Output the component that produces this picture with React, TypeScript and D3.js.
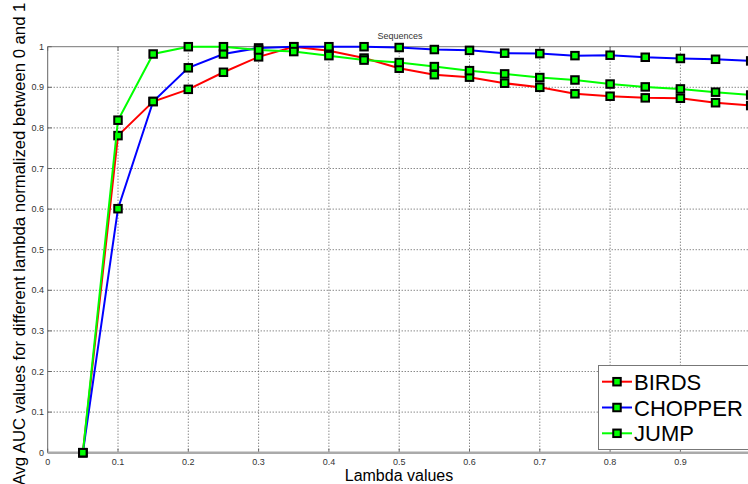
import React from "react";
import * as d3 from "d3";

const lambdas = [0.05, 0.1, 0.15, 0.2, 0.25, 0.3, 0.35, 0.4, 0.45, 0.5, 0.55, 0.6, 0.65, 0.7, 0.75, 0.8, 0.85, 0.9, 0.95, 1.0];
const birds = [0, 0.781, 0.865, 0.895, 0.937, 0.975, 1.0, 0.99, 0.972, 0.947, 0.931, 0.925, 0.91, 0.9, 0.884, 0.878, 0.874, 0.873, 0.862, 0.855];
const chopper = [0, 0.601, 0.865, 0.948, 0.982, 0.997, 1.0, 1.0, 1.0, 0.998, 0.993, 0.991, 0.984, 0.983, 0.978, 0.979, 0.974, 0.971, 0.969, 0.965];
const jump = [0, 0.819, 0.982, 1.0, 1.0, 0.992, 0.988, 0.978, 0.967, 0.961, 0.951, 0.941, 0.933, 0.924, 0.918, 0.908, 0.901, 0.896, 0.888, 0.881];
const seriesNames = ["BIRDS", "CHOPPER", "JUMP"];
const seriesColors = ["#ff0000", "#0000ff", "#00ff00"];
const xTicks = [0, 0.1, 0.2, 0.3, 0.4, 0.5, 0.6, 0.7, 0.8, 0.9];
const yTicks = [0, 0.1, 0.2, 0.3, 0.4, 0.5, 0.6, 0.7, 0.8, 0.9, 1];

export default function App() {
  const W = 748, H = 484;
  const x = d3.scaleLinear().domain([0, 1]).range([47.7, 750.7]);
  const y = d3.scaleLinear().domain([0, 1]).range([452.7, 46.7]);
  const allSeries = [birds, chopper, jump];
  const line = d3.line<number>().x((_, i) => x(lambdas[i])).y((d) => y(d));
  const font = "Arial, 'Liberation Sans', sans-serif";
  const ms = 7.5;
  return (
    <svg width={W} height={H} style={{ position: "absolute", left: 0, top: 0, background: "#fff" }} fontFamily={font}>
      <rect x={0} y={0} width={W} height={H} fill="#fff" />
      {xTicks.slice(1).map((t) => (
        <line key={"gx" + t} x1={x(t)} x2={x(t)} y1={y(1)} y2={y(0)} stroke="#555" strokeWidth={1} strokeDasharray="1,2" />
      ))}
      {yTicks.slice(1, -1).map((t) => (
        <line key={"gy" + t} x1={x(0)} x2={W} y1={y(t)} y2={y(t)} stroke="#555" strokeWidth={1} strokeDasharray="1,2" />
      ))}
      <line x1={x(0)} x2={W} y1={y(1)} y2={y(1)} stroke="#777" strokeWidth={1} />
      <line x1={x(0)} x2={x(0)} y1={y(1)} y2={y(0)} stroke="#666" strokeWidth={1} />
      {xTicks.map((t) => (
        <g key={"tx" + t}>
          <line x1={x(t)} x2={x(t)} y1={y(0)} y2={y(0) - 4} stroke="#666" />
          <line x1={x(t)} x2={x(t)} y1={y(1)} y2={y(1) + 4} stroke="#666" />
          <text x={x(t)} y={465} fontSize={9} textAnchor="middle" fill="#333">{t === 0 ? "0" : t.toFixed(1)}</text>
        </g>
      ))}
      {yTicks.map((t) => (
        <g key={"ty" + t}>
          <line x1={x(0)} x2={x(0) + 4} y1={y(t)} y2={y(t)} stroke="#666" />
          <text x={44} y={y(t) + 3} fontSize={9} textAnchor="end" fill="#333">{t === 0 || t === 1 ? String(t) : t.toFixed(1)}</text>
        </g>
      ))}
      <line x1={x(0)} x2={W} y1={y(0)} y2={y(0)} stroke="#aaa" strokeWidth={2.5} />
      <text x={400} y={39} fontSize={9} textAnchor="middle" fill="#333">Sequences</text>
      <text x={399} y={481} fontSize={16} textAnchor="middle" fill="#000">Lambda values</text>
      <text transform={`translate(25,244) rotate(-90)`} fontSize={16.7} textAnchor="middle" fill="#000">
        Avg AUC values for different lambda normalized between 0 and 1
      </text>
      {allSeries.map((s, si) => (
        <g key={"s" + si}>
          <path d={line(s) || ""} fill="none" stroke={seriesColors[si]} strokeWidth={2} />
          {s.map((v, i) => (
            <rect key={i} x={x(lambdas[i]) - ms / 2} y={y(v) - ms / 2} width={ms} height={ms} fill="#00ff00" stroke="#000" strokeWidth={2} />
          ))}
        </g>
      ))}
      <rect x={598.5} y={365.5} width={170} height={84} fill="#fff" stroke="#777" strokeWidth={1} />
      {seriesNames.map((n, i) => {
        const ly = 381.7 + i * 25.8;
        return (
          <g key={"l" + n}>
            <line x1={602} x2={632} y1={ly} y2={ly} stroke={seriesColors[i]} strokeWidth={2} />
            <rect x={617 - ms / 2} y={ly - ms / 2} width={ms} height={ms} fill="#00ff00" stroke="#000" strokeWidth={2} />
            <text x={634} y={ly + 8} fontSize={22} fill="#000">{n}</text>
          </g>
        );
      })}
    </svg>
  );
}
